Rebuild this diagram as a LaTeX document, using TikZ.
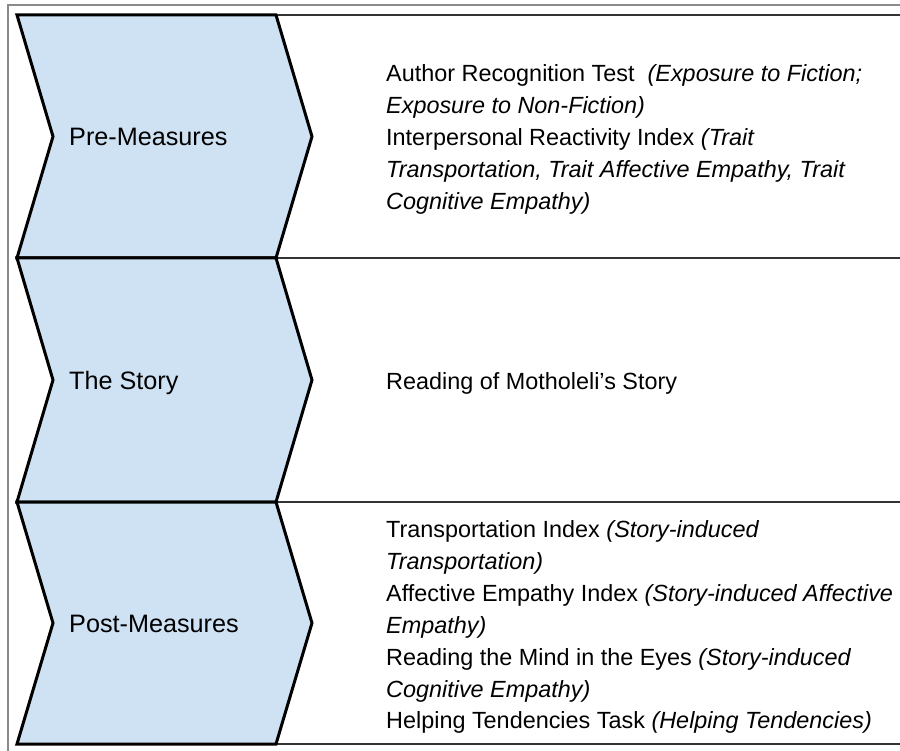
\documentclass[tikz,border=0pt]{standalone}
\usepackage{fontspec}
\setmainfont{Liberation Sans}
\definecolor{chevfill}{HTML}{CFE2F3}
\definecolor{framegray}{HTML}{8A8A8A}
\definecolor{rowline}{HTML}{333333}
\begin{document}
\begin{tikzpicture}[x=1pt,y=-1pt,
  chev/.style={draw=black,line width=3pt,fill=chevfill,line join=miter},
  rowsep/.style={draw=rowline,line width=1.2pt},
  outerframe/.style={draw=framegray,line width=1.3pt},
  lbl/.style={anchor=base west,inner sep=0pt,font=\fontsize{25.2}{30}\selectfont},
  txt/.style={anchor=base west,inner sep=0pt,font=\fontsize{23.4}{28}\selectfont}]
\useasboundingbox (0,0) rectangle (900,751);
\fill[white] (0,0) rectangle (900,751);
% outer frame
\draw[outerframe] (8,751) -- (8,5) -- (900,5);
% row separators
\draw[rowsep] (276,15) -- (900,15);
\draw[rowsep] (276,258) -- (900,258);
\draw[rowsep] (276,502) -- (900,502);
\draw[rowsep] (276,744) -- (900,744);
% chevrons
\draw[chev] (17,15) -- (276,15) -- (312,136.5) -- (276,258) -- (17,258) -- (53,136.5) -- cycle;
\draw[chev] (17,258) -- (276,258) -- (312,380) -- (276,502) -- (17,502) -- (53,380) -- cycle;
\draw[chev] (17,502) -- (276,502) -- (312,623) -- (276,744) -- (17,744) -- (53,623) -- cycle;
% labels
\node[lbl] (pre) at (69,146) {Pre-Measures};
\node[lbl] (story) at (69,389) {The Story};
\node[lbl] (post) at (69,632) {Post-Measures};
% row 1 text
\node[txt] (a1) at (386,82) {Author Recognition Test~ \textit{(Exposure to Fiction;}};
\node[txt] (a2) at (386,114) {\textit{Exposure to Non-Fiction)}};
\node[txt] (a3) at (386,146) {Interpersonal Reactivity Index \textit{(Trait}};
\node[txt] (a4) at (386,178) {\textit{Transportation, Trait Affective Empathy, Trait}};
\node[txt] (a5) at (386,210) {\textit{Cognitive Empathy)}};
% row 2 text
\node[txt] (b1) at (386,389) {Reading of Motholeli’s Story};
% row 3 text
\node[txt] (c1) at (386,537) {Transportation Index \textit{(Story-induced}};
\node[txt] (c2) at (386,569) {\textit{Transportation)}};
\node[txt] (c3) at (386,601) {Affective Empathy Index \textit{(Story-induced Affective}};
\node[txt] (c4) at (386,633) {\textit{Empathy)}};
\node[txt] (c5) at (386,665) {Reading the Mind in the Eyes \textit{(Story-induced}};
\node[txt] (c6) at (386,697) {\textit{Cognitive Empathy)}};
\node[txt] (c7) at (386,728) {Helping Tendencies Task \textit{(Helping Tendencies)}};
\end{tikzpicture}
\end{document}
